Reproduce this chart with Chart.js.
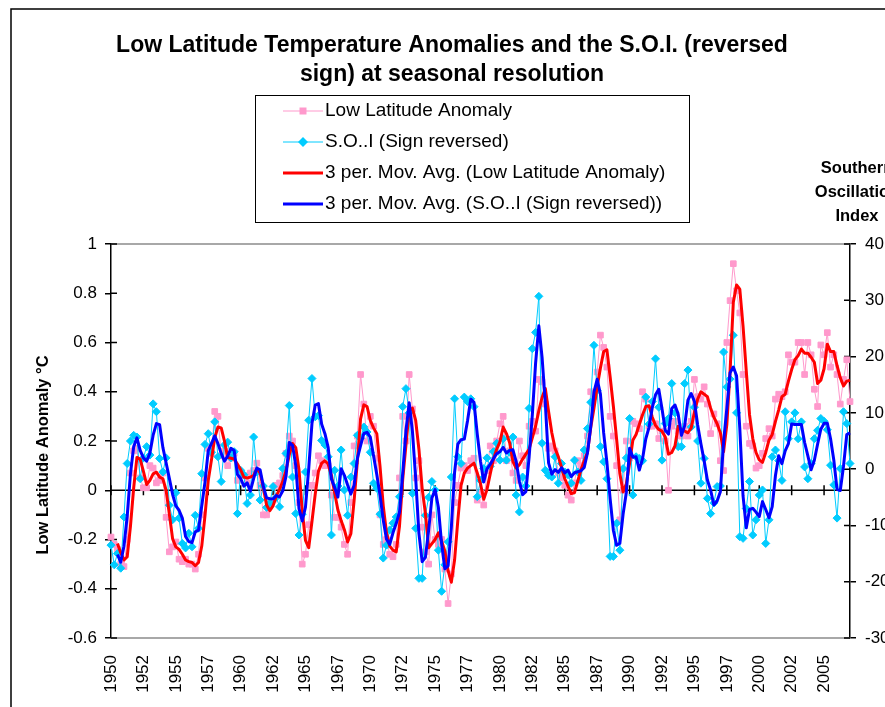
<!DOCTYPE html>
<html lang="en">
<head>
<meta charset="UTF-8">
<title>Low Latitude Temperature Anomalies and the S.O.I.</title>
<script src="https://cdn.jsdelivr.net/npm/chart.js"></script>
<style>
  html, body { margin: 0; padding: 0; background: #fff; overflow: hidden; }
  #wrap { width: 930px; height: 707px; }
</style>
</head>
<body>
<div id="wrap"><canvas id="soiChart" width="930" height="707"></canvas></div>
<script>
// seasonal values, 1950 Q1 .. 2007 Q1
const lowLat = [
  -0.19, -0.22, -0.24, -0.30, -0.31, -0.20, 0.07, 0.16, 0.17, 0.05,
  0.01, 0.01, 0.10, 0.09, 0.03, 0.04, 0.07, -0.11, -0.25, -0.23,
  -0.21, -0.28, -0.29, -0.28, -0.30, -0.30, -0.32, -0.26, -0.10, 0.05,
  0.17, 0.15, 0.32, 0.30, 0.14, 0.16, 0.10, 0.13, 0.15, 0.04,
  0.06, 0.06, 0.03, 0.07, 0.08, 0.11, 0.02, -0.10, -0.10, -0.05,
  -0.04, 0.02, 0.03, 0.06, 0.15, 0.22, 0.20, 0.10, -0.05, -0.30,
  -0.26, -0.14, 0.02, 0.07, 0.14, 0.12, 0.10, 0.10, -0.02, -0.11,
  -0.11, -0.15, -0.22, -0.26, -0.05, 0.18, 0.22, 0.47, 0.35, 0.20,
  0.30, 0.26, 0.13, -0.10, -0.22, -0.20, -0.26, -0.27, -0.22, 0.05,
  0.30, 0.20, 0.47, 0.33, 0.05, 0.12, -0.15, -0.25, -0.30, -0.10,
  -0.20, -0.22, -0.20, -0.32, -0.46, -0.34, -0.05, 0.02, 0.09, 0.10,
  0.08, 0.12, 0.13, -0.04, -0.01, -0.06, 0.08, 0.18, 0.12, 0.20,
  0.27, 0.30, 0.12, 0.16, 0.07, 0.04, 0.20, 0.14, 0.10, 0.26,
  0.28, 0.24, 0.45, 0.44, 0.35, 0.17, 0.18, 0.16, 0.07, 0.05,
  0.02, -0.02, -0.04, 0.03, 0.12, 0.10, 0.14, 0.22, 0.40, 0.38,
  0.48, 0.63, 0.58, 0.50, 0.30, 0.22, 0.10, -0.12, 0.00, 0.20,
  0.13, 0.28, 0.27, 0.25, 0.40, 0.37, 0.26, 0.26, 0.27, 0.21,
  0.24, 0.20, 0.00, 0.26, 0.28, 0.24, 0.22, 0.26, 0.22, 0.28,
  0.45, 0.38, 0.37, 0.42, 0.35, 0.23, 0.31, 0.27, 0.12, 0.08,
  0.60, 0.77, 0.92, 0.81, 0.72, 0.47, 0.26, 0.19, 0.18, 0.09,
  0.10, 0.15, 0.21, 0.25, 0.22, 0.37, 0.39, 0.38, 0.40, 0.55,
  0.52, 0.52, 0.60, 0.60, 0.47, 0.60, 0.55, 0.41, 0.34, 0.59,
  0.55, 0.64, 0.50, 0.55, 0.47, 0.35, 0.45, 0.53, 0.36
];

const soi = [
  -13.5, -17, -15, -17.6, -8.5, 1.0, 5.0, 6.0, 5.7, -1.7,
  2.0, 4.0, 2.5, 11.6, 10.2, 1.9, -0.5, 2.0, -6.4, -9.0,
  -4.2, -8.7, -13.2, -14.0, -11.4, -13.8, -8.2, -10.5, -0.8, 4.4,
  6.3, 3.0, 8.4, 2.2, -2.2, 4.3, 4.8, 2.0, 3.1, -7.9,
  -0.2, -1.0, -6.1, -4.6, 5.7, -0.5, -5.5, -3.0, -6.8, -6.0,
  -3.1, -5.0, -6.7, 0.1, 2.8, 11.3, -1.4, -7.9, -11.7, -8.0,
  -0.5, 8.7, 16.1, 9.3, 9.5, 5.1, 4.3, 2.2, -11.7, -0.2,
  -3.0, 3.4, -3.7, -8.2, -1.4, 1.0, 6.0, 5.5, 7.5, 6.6,
  3.0, -2.5, -3.4, -8.0, -15.8, -13.5, -10.8, -9.6, -8.5, -4.9,
  11.1, 14.3, 10.0, -4.3, -10.5, -19.4, -19.4, -8.2, -5.0, -2.2,
  -3.7, -14.4, -21.7, -17.0, -12.9, -1.4, 12.5, 2.2, 1.0, 12.8,
  12.0, 12.5, 11.1, -4.9, -2.0, 0.1, 2.0, 0.5, 3.1, 4.6,
  1.6, 5.4, 1.6, 3.0, 5.7, -4.6, -7.6, -1.4, -3.0, 10.8,
  21.4, 24.3, 30.7, 4.6, -0.2, -1.1, -1.4, 2.2, -2.5, 1.0,
  -0.5, -1.0, -2.5, 1.6, -0.5, -2.0, 3.4, 7.2, 11.9, 22.0,
  14.0, 4.0, 1.3, -1.7, -15.5, -15.5, -9.6, -14.4, 0.1, 2.0,
  9.0, -4.6, 2.2, 1.9, 1.5, 12.8, 8.0, 12.0, 19.6, 11.0,
  1.6, 8.1, 9.0, 15.2, 10.0, 4.0, 4.0, 15.2, 17.6, 7.5,
  11.0, 5.0, -2.5, 1.9, -5.2, -7.9, -6.0, -3.1, -3.0, 20.8,
  14.6, 16.0, 23.8, 10.0, -12.0, -12.3, -7.0, -2.2, -11.7, -9.0,
  -4.6, -3.7, -13.2, -9.0, 2.2, 3.4, 1.5, -2.0, 10.2, 5.4,
  8.4, 10.0, 5.4, 8.4, 0.4, -1.7, 1.0, 5.4, 6.9, 9.0,
  8.5, 7.0, 0.7, -2.8, -8.7, 0.1, 10.2, 8.1, 1.0
];

// one label every 10 seasons
const xTickLabels = ['1950', '1952', '1955', '1957', '1960', '1962', '1965', '1967',
  '1970', '1972', '1975', '1977', '1980', '1982', '1985', '1987', '1990', '1992',
  '1995', '1997', '2000', '2002', '2005'];

const titleLines = ['Low Latitude Temperature Anomalies and the S.O.I. (reversed',
  'sign) at seasonal resolution'];
const leftAxisTitle = 'Low Latitude Anomaly \u00B0C';
const rightAxisTitle = ['Southern', 'Oscillation', 'Index'];

const FONT = '"Liberation Sans", Arial, Helvetica, sans-serif';

// Excel style 3 period moving average trendline
function movAvg3(arr) {
  return arr.map((v, i) => i < 2 ? null : (arr[i - 2] + arr[i - 1] + arr[i]) / 3);
}

function marker(ctx, style, x, y, r) {
  ctx.beginPath();
  if (style === 'rect') {
    ctx.rect(x - r, y - r, 2 * r, 2 * r);
  } else {
    ctx.moveTo(x, y - r); ctx.lineTo(x + r, y); ctx.lineTo(x, y + r); ctx.lineTo(x - r, y);
    ctx.closePath();
  }
  ctx.fill();
}

const excelLook = {
  id: 'excelLook',
  beforeDraw(chart) {
    const ctx = chart.ctx;
    ctx.save();
    ctx.fillStyle = '#fff';
    ctx.fillRect(0, 0, chart.width, chart.height);
    ctx.restore();
  },
  beforeDatasetsDraw(chart) {
    const { ctx, chartArea: a, scales } = chart;
    ctx.save();
    // grey plot area border (top and bottom)
    ctx.strokeStyle = '#8c8c8c';
    ctx.lineWidth = 1.5;
    ctx.beginPath();
    ctx.moveTo(a.left, a.top); ctx.lineTo(a.right, a.top);
    ctx.moveTo(a.left, a.bottom); ctx.lineTo(a.right, a.bottom);
    ctx.stroke();
    // category axis crosses at 0
    const y0 = scales.y.getPixelForValue(0);
    ctx.strokeStyle = '#000';
    ctx.beginPath();
    ctx.moveTo(a.left, y0); ctx.lineTo(a.right, y0);
    for (let i = 0; i < lowLat.length; i += 10) {
      const x = scales.x.getPixelForValue(i);
      ctx.moveTo(x, y0 - 5); ctx.lineTo(x, y0 + 5);
    }
    // inner half of the cross tick marks
    scales.y.ticks.forEach(t => {
      const y = scales.y.getPixelForValue(t.value);
      ctx.moveTo(a.left, y); ctx.lineTo(a.left + 6, y);
    });
    scales.y2.ticks.forEach(t => {
      const y = scales.y2.getPixelForValue(t.value);
      ctx.moveTo(a.right - 6, y); ctx.lineTo(a.right, y);
    });
    ctx.stroke();
    ctx.restore();
  },
  afterDraw(chart) {
    const ctx = chart.ctx;
    ctx.save();
    ctx.fillStyle = '#000';

    // title
    ctx.font = 'bold 23px ' + FONT;
    ctx.textAlign = 'center';
    ctx.textBaseline = 'middle';
    ctx.fillText(titleLines[0], 452, 46);
    ctx.fillText(titleLines[1], 452, 75);

    // axis titles
    ctx.font = 'bold 16.5px ' + FONT;
    rightAxisTitle.forEach((t, k) => ctx.fillText(t, 857, 168 + k * 24));
    ctx.save();
    ctx.translate(43, 455);
    ctx.rotate(-Math.PI / 2);
    ctx.fillText(leftAxisTitle, 0, 0);
    ctx.restore();

    // legend box
    ctx.strokeStyle = '#000';
    ctx.lineWidth = 1;
    ctx.strokeRect(255.5, 95.5, 434, 127);
    ctx.font = '19px ' + FONT;
    ctx.textAlign = 'left';
    chart.data.datasets.forEach((ds, k) => {
      const yy = 111 + k * 31;
      ctx.strokeStyle = ds.borderColor;
      ctx.lineWidth = ds.borderWidth;
      ctx.beginPath();
      ctx.moveTo(283, yy); ctx.lineTo(323, yy);
      ctx.stroke();
      if (ds.pointRadius > 0) {
        ctx.fillStyle = ds.pointBackgroundColor;
        marker(ctx, ds.pointStyle, 303, yy, ds.pointStyle === 'rect' ? 3.5 : 5);
      }
      ctx.fillStyle = '#000';
      ctx.fillText(ds.label, 325, yy);
    });

    // chart frame
    ctx.strokeStyle = '#000';
    ctx.lineWidth = 1.5;
    ctx.strokeRect(11, 9, 1000, 1000);
    ctx.restore();
  }
};

const ctx = document.getElementById('soiChart').getContext('2d');
const soiChart = new Chart(ctx, {
  type: 'line',
  data: {
    labels: lowLat.map((v, i) => i),
    datasets: [{
      label: 'Low Latitude Anomaly',
      data: lowLat,
      yAxisID: 'y',
      borderColor: '#FF99CC',
      borderWidth: 1,
      pointStyle: 'rect',
      pointRadius: 4,
      pointBorderWidth: 1,
      pointBackgroundColor: '#FF99CC',
      pointBorderColor: '#FF99CC',
      order: 4
    }, {
      label: 'S.O..I (Sign reversed)',
      data: soi,
      yAxisID: 'y2',
      borderColor: '#00CCFF',
      borderWidth: 1,
      pointStyle: 'rectRot',
      pointRadius: 4,
      pointBorderWidth: 1,
      pointBackgroundColor: '#00CCFF',
      pointBorderColor: '#00CCFF',
      order: 3
    }, {
      label: '3 per. Mov. Avg. (Low Latitude Anomaly)',
      data: movAvg3(lowLat),
      yAxisID: 'y',
      borderColor: '#FF0000',
      borderWidth: 3,
      pointRadius: 0,
      order: 2
    }, {
      label: '3 per. Mov. Avg. (S.O..I (Sign reversed))',
      data: movAvg3(soi),
      yAxisID: 'y2',
      borderColor: '#0000FF',
      borderWidth: 3,
      pointRadius: 0,
      order: 1
    }]
  },
  options: {
    responsive: false,
    animation: false,
    devicePixelRatio: 1,
    layout: { padding: { top: 244, left: 0, right: 0, bottom: 0 } },
    elements: { line: { tension: 0, borderJoinStyle: 'round' } },
    plugins: {
      legend: { display: false },
      title: { display: false },
      tooltip: { enabled: false }
    },
    scales: {
      x: {
        type: 'category',
        offset: false,
        grid: { display: false, drawTicks: false },
        border: { display: false },
        ticks: {
          autoSkip: false,
          minRotation: 90,
          maxRotation: 90,
          padding: 17,
          color: '#000',
          font: { family: FONT, size: 17 },
          callback: (v, i) => i % 10 === 0 ? xTickLabels[i / 10] : ''
        },
        afterFit: s => { s.height = 69; }
      },
      y: {
        position: 'left',
        min: -0.6,
        max: 1,
        ticks: {
          stepSize: 0.2,
          padding: 8,
          color: '#000',
          font: { family: FONT, size: 17 },
          callback: v => String(Math.round(v * 10) / 10)
        },
        grid: { drawOnChartArea: false, color: '#000', lineWidth: 1.5, tickLength: 6 },
        border: { color: '#000', width: 1.5 },
        afterFit: s => { s.width = 111; }
      },
      y2: {
        position: 'right',
        min: -30,
        max: 40,
        ticks: {
          stepSize: 10,
          padding: 9,
          color: '#000',
          font: { family: FONT, size: 17 }
        },
        grid: { drawOnChartArea: false, color: '#000', lineWidth: 1.5, tickLength: 6 },
        border: { color: '#000', width: 1.5 },
        afterFit: s => { s.width = 80; }
      }
    }
  },
  plugins: [excelLook]
});
</script>
</body>
</html>
